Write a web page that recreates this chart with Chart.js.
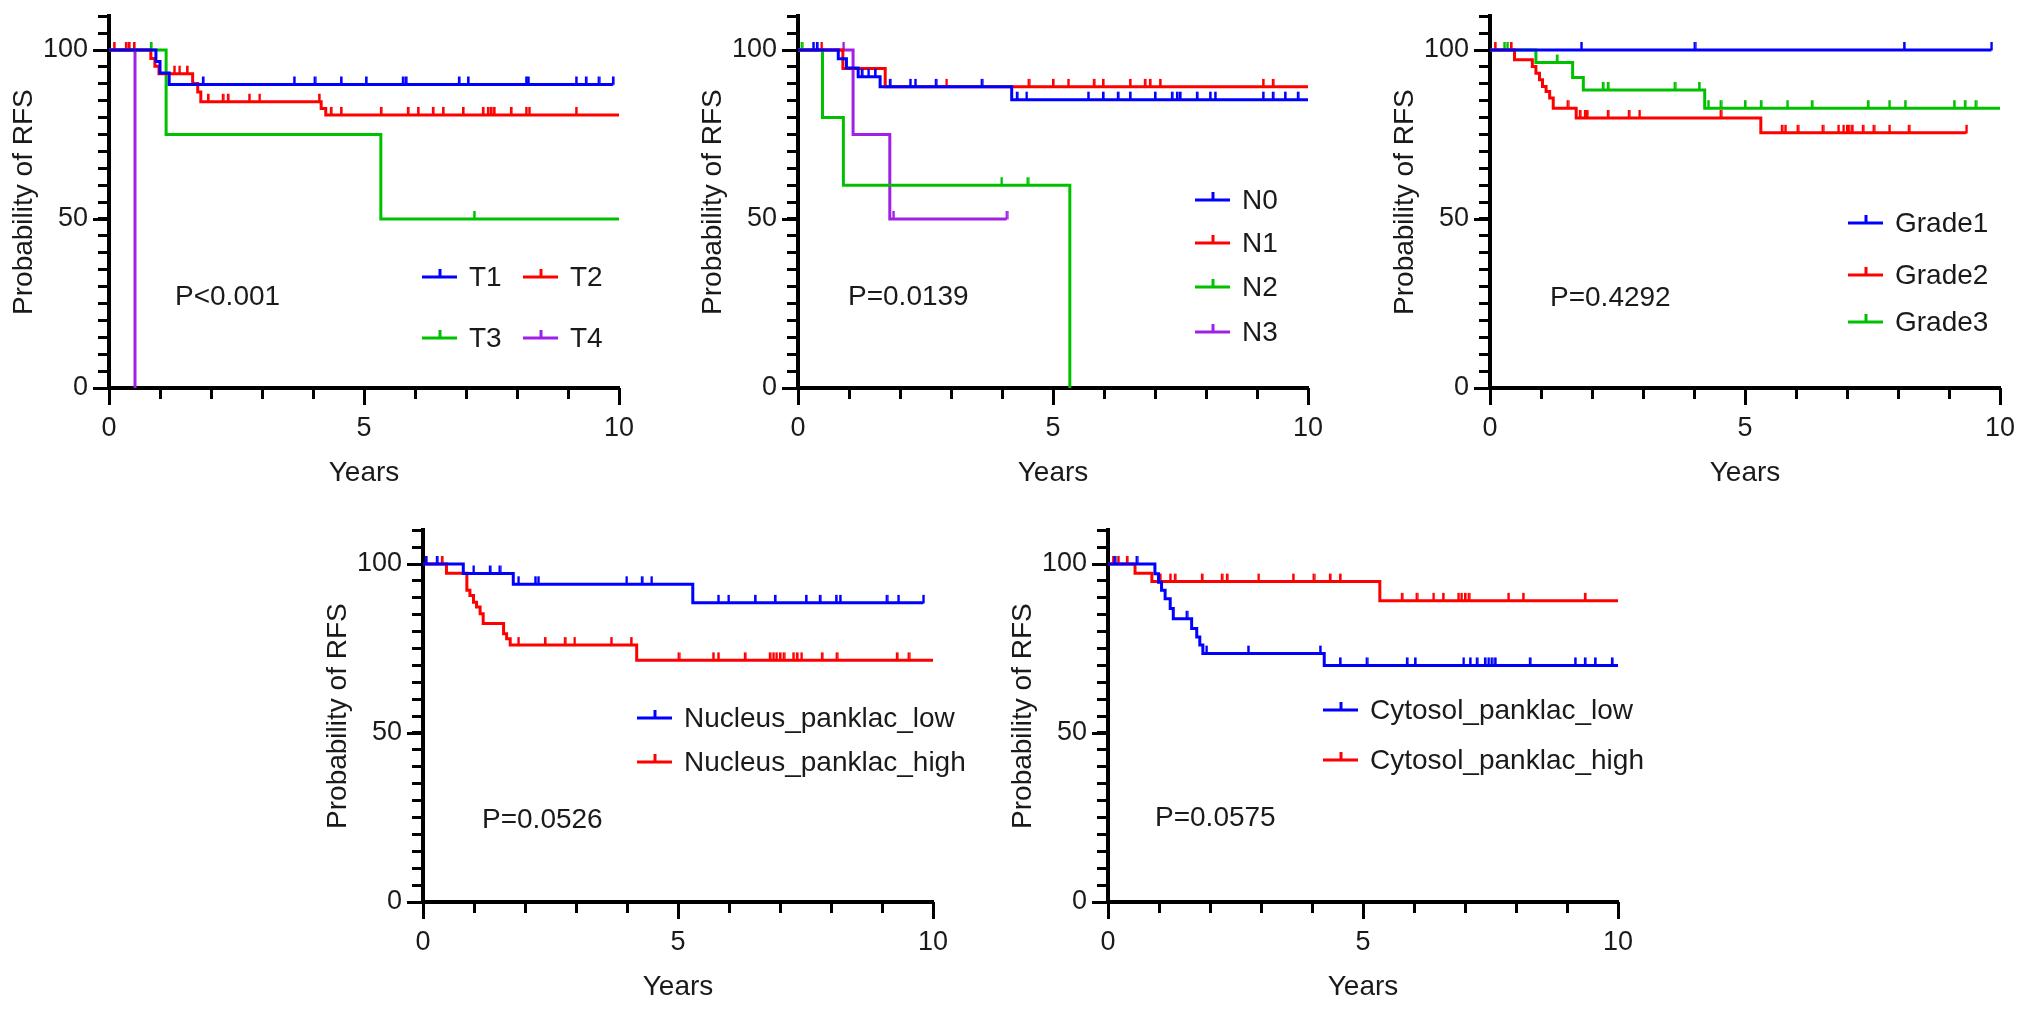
<!DOCTYPE html>
<html>
<head>
<meta charset="utf-8">
<script src="https://cdn.jsdelivr.net/npm/chart.js@4.4.0/dist/chart.umd.min.js"></script>
<style>
  body { margin: 0; background: #fff; width: 2032px; height: 1010px; overflow: hidden; position: relative; }
  canvas { position: absolute; }
</style>
</head>
<body>
<canvas id="pT"></canvas>
<canvas id="pN"></canvas>
<canvas id="pG"></canvas>
<canvas id="pNuc"></canvas>
<canvas id="pCyt"></canvas>
<script>
// ---- data (years / probability of RFS in %) ----
// T stage
const t1Time = [0, 0.92, 1.0, 1.18, 9.88];
const t1Surv = [100, 96.6, 93.2, 89.8, 89.8];
const t1Cens = [1.84, 3.63, 4.03, 4.55, 5.04, 5.76, 5.82, 6.86, 7.04, 8.18, 8.22, 9.16, 9.35, 9.6, 9.88];
const t2Time = [0, 0.82, 0.9, 0.98, 1.64, 1.74, 1.8, 4.16, 4.25, 10];
const t2Surv = [100, 97.5, 95.2, 93.0, 90.1, 87.6, 84.7, 82.7, 80.8, 80.8];
const t2Cens = [0.1, 0.33, 0.39, 0.49, 1.28, 1.38, 1.53, 1.94, 2.23, 2.33, 2.75, 2.95, 4.12, 4.35, 4.55, 5.33, 5.86, 6.06, 6.35, 6.55, 6.94, 7.33, 7.43, 7.49, 7.55, 7.88, 8.18, 8.24, 9.16];
const t3Time = [0, 1.12, 5.33, 10];
const t3Surv = [100, 75, 50, 50];
const t3Cens = [0.82, 7.16];
const t4Time = [0, 0.51];
const t4Surv = [100, 0];
const t4Cens = [];

// N stage
const n0Time = [0, 0.79, 0.95, 1.18, 1.61, 4.19, 10];
const n0Surv = [100, 97.4, 94.7, 92.1, 89.1, 85.3, 85.3];
const n0Cens = [0.3, 0.37, 1.25, 1.38, 1.51, 1.8, 2.2, 2.3, 2.7, 3.6, 4.29, 4.48, 5.69, 5.98, 6.27, 6.51, 7.0, 7.33, 7.43, 7.49, 7.82, 8.08, 8.18, 9.12, 9.31, 9.55, 9.8];
const n1Time = [0, 0.88, 1.71, 10];
const n1Surv = [100, 94.5, 89.1, 89.1];
const n1Cens = [0.46, 2.91, 4.52, 5.0, 5.3, 5.8, 5.98, 6.51, 6.8, 6.9, 7.1, 9.12, 9.31];
const n2Time = [0, 0.48, 0.89, 5.33];
const n2Surv = [100, 80, 60, 0];
const n2Cens = [0.07, 3.99, 4.5];
const n3Time = [0, 1.08, 1.8, 4.09];
const n3Surv = [100, 75, 50, 50];
const n3Cens = [0.89, 1.87, 4.09];

// Grade
const g1Time = [0, 9.83];
const g1Surv = [100, 100];
const g1Cens = [1.79, 4.01, 8.12, 9.83];
const g2Time = [0, 0.48, 0.83, 0.9, 0.97, 1.03, 1.1, 1.17, 1.24, 1.69, 5.31, 9.34];
const g2Surv = [100, 97.1, 95.1, 93.1, 91.2, 89.2, 87.7, 85.8, 82.8, 79.9, 75.5, 75.5];
const g2Cens = [0.1, 0.41, 1.52, 1.76, 1.86, 1.9, 2.31, 2.72, 2.93, 4.52, 5.72, 5.79, 6.03, 6.52, 6.83, 6.93, 7.0, 7.03, 7.1, 7.31, 7.52, 7.83, 8.21, 9.34];
const g3Time = [0, 0.9, 1.62, 1.83, 4.21, 10];
const g3Surv = [100, 96.3, 91.9, 88.2, 82.8, 82.8];
const g3Cens = [0.28, 0.34, 1.31, 2.21, 2.31, 3.62, 4.1, 4.28, 4.52, 5.0, 5.31, 5.83, 6.31, 7.41, 7.83, 8.14, 9.1, 9.31, 9.52];

// Nucleus panklac
const nucLowTime = [0, 0.79, 1.77, 5.29, 9.81];
const nucLowSurv = [100, 97.2, 94.0, 88.5, 88.5];
const nucLowCens = [0.06, 0.27, 0.99, 1.31, 1.5, 1.87, 2.2, 2.26, 3.99, 4.29, 4.48, 5.79, 5.99, 6.51, 6.9, 7.51, 7.78, 8.1, 8.18, 9.09, 9.32, 9.81];
const nucHighTime = [0, 0.46, 0.86, 0.92, 0.99, 1.05, 1.12, 1.18, 1.58, 1.64, 1.71, 4.19, 10];
const nucHighSurv = [100, 97.3, 92.2, 90.7, 88.7, 87.3, 85.3, 82.4, 79.4, 77.9, 76.0, 71.5, 71.5];
const nucHighCens = [0.37, 1.87, 2.39, 2.78, 2.97, 3.69, 4.08, 5.01, 5.69, 5.79, 6.31, 6.8, 6.87, 6.93, 7.0, 7.07, 7.26, 7.33, 7.42, 7.82, 8.11, 9.29, 9.52];

// Cytosol panklac
const cytLowTime = [0, 0.92, 0.99, 1.05, 1.12, 1.22, 1.28, 1.64, 1.74, 1.8, 1.86, 4.24, 10];
const cytLowSurv = [100, 97.1, 94.6, 92.2, 89.7, 86.8, 83.8, 80.9, 78.4, 76.0, 73.5, 70.0, 70.0];
const cytLowCens = [0.13, 0.56, 1.54, 1.93, 2.75, 4.16, 4.55, 5.07, 5.86, 6.02, 6.97, 7.1, 7.23, 7.39, 7.46, 7.52, 7.59, 8.27, 9.16, 9.35, 9.55, 9.88];
const cytHighTime = [0, 0.53, 0.86, 5.33, 10];
const cytHighSurv = [100, 97.3, 94.8, 89.1, 89.1];
const cytHighCens = [0.1, 0.2, 0.37, 1.02, 1.22, 1.31, 1.84, 2.23, 2.33, 2.95, 3.63, 4.03, 4.35, 4.55, 5.76, 6.05, 6.38, 6.57, 6.87, 6.93, 7.0, 7.07, 7.85, 8.14, 9.35];

const yTickLabels = [0, 50, 100];
const xTickLabels = [0, 5, 10];
const yTicks = [0, 5, 10, 15, 20, 25, 30, 35, 40, 45, 50, 55, 60, 65, 70, 75, 80, 85, 90, 95, 100, 105, 110];
const xTicks = [0, 1, 2, 3, 4, 5, 6, 7, 8, 9, 10];

const BLUE = '#0000ff', RED = '#ff0000', GREEN = '#00c000', PURPLE = '#a020e8';
const FONT = '"Liberation Sans", Arial, Helvetica, sans-serif';
const TEXT = '#1a1a1a';

// survival level at time t from a step curve
function survAt(times, surv, t) {
  let s = surv[0];
  for (let i = 0; i < times.length; i++) if (times[i] <= t) s = surv[i];
  return s;
}

// small upward tick used as the censor mark
const markCache = {};
function censorMark(color) {
  if (markCache[color]) return markCache[color];
  const c = document.createElement('canvas');
  c.width = 4; c.height = 18;
  const g = c.getContext('2d');
  g.fillStyle = color;
  g.fillRect(1, 1, 2.6, 8.5);
  markCache[color] = c;
  return c;
}

function curveSets(label, color, times, surv, cens) {
  return [
    {
      label: label,
      data: times.map((t, i) => ({ x: t, y: surv[i] })),
      showLine: true, stepped: true, borderColor: color, borderWidth: 3,
      pointRadius: 0, fill: false
    },
    {
      label: label + ' censored',
      data: cens.map(t => ({ x: t, y: survAt(times, surv, t) })),
      showLine: false, pointStyle: censorMark(color), pointRadius: 4
    }
  ];
}

// longer major ticks, in-plot legend and p-value text
const kmDecor = {
  id: 'kmDecor',
  afterDraw(chart, args, opts) {
    const ctx = chart.ctx;
    const area = chart.chartArea;
    const xs = chart.scales.x, ys = chart.scales.y;
    ctx.save();
    ctx.strokeStyle = '#000';
    ctx.lineWidth = 3;
    yTickLabels.forEach(v => {
      const py = Math.round(ys.getPixelForValue(v)) + 0.5;
      ctx.beginPath(); ctx.moveTo(area.left - 16, py); ctx.lineTo(area.left, py); ctx.stroke();
    });
    xTickLabels.forEach(v => {
      const px = Math.round(xs.getPixelForValue(v)) + 0.5;
      ctx.beginPath(); ctx.moveTo(px, area.bottom); ctx.lineTo(px, area.bottom + 17); ctx.stroke();
    });

    ctx.font = '28px ' + FONT;
    ctx.textBaseline = 'middle';
    ctx.textAlign = 'left';
    (opts.items || []).forEach(it => {
      ctx.strokeStyle = it.color;
      ctx.lineWidth = 3;
      ctx.beginPath(); ctx.moveTo(it.x, it.y); ctx.lineTo(it.x + 35, it.y); ctx.stroke();
      ctx.beginPath(); ctx.moveTo(it.x + 18, it.y); ctx.lineTo(it.x + 18, it.y - 8); ctx.stroke();
      ctx.fillStyle = TEXT;
      ctx.fillText(it.label, it.x + 47, it.y + 1);
    });
    if (opts.pText) {
      ctx.fillStyle = TEXT;
      ctx.fillText(opts.pText, opts.px, opts.py);
    }
    ctx.restore();
  }
};

const PAD_TOP = 24, Y_BOX = 108, X_BOX = 110, PLOT_W = 510, PLOT_H = 374, PAD_RIGHT = 60;

function makePanel(id, ox, oy, datasets, legendOpts) {
  const cv = document.getElementById(id);
  const w = Y_BOX + PLOT_W + PAD_RIGHT, h = PAD_TOP + PLOT_H + X_BOX;
  cv.width = w; cv.height = h;
  cv.style.left = (ox - Y_BOX) + 'px';
  cv.style.top = (oy - PLOT_H - PAD_TOP) + 'px';
  cv.style.width = w + 'px'; cv.style.height = h + 'px';
  new Chart(cv, {
    type: 'scatter',
    data: { datasets: datasets },
    plugins: [kmDecor],
    options: {
      responsive: false, animation: false, events: [],
      layout: { padding: { top: PAD_TOP, right: PAD_RIGHT, left: 0, bottom: 0 } },
      plugins: { legend: { display: false }, tooltip: { enabled: false }, kmDecor: legendOpts },
      scales: {
        x: {
          type: 'linear', min: 0, max: 10,
          afterBuildTicks: s => { s.ticks = xTicks.map(v => ({ value: v })); },
          afterFit: s => { s.height = X_BOX; },
          border: { display: true, color: '#000', width: 4 },
          grid: { drawOnChartArea: false, drawTicks: true, tickLength: 11, tickWidth: 3, tickColor: '#000' },
          ticks: {
            padding: 13, autoSkip: false, maxRotation: 0, color: TEXT, font: { size: 27, family: FONT },
            callback: v => (xTickLabels.includes(v) ? String(v) : '')
          },
          title: { display: true, text: 'Years', color: TEXT, font: { size: 28, family: FONT }, padding: { top: 0, bottom: 8 } }
        },
        y: {
          type: 'linear', min: 0, max: 110,
          afterBuildTicks: s => { s.ticks = yTicks.map(v => ({ value: v })); },
          afterFit: s => { s.width = Y_BOX; },
          border: { display: true, color: '#000', width: 4 },
          grid: { drawOnChartArea: false, drawTicks: true, tickLength: 11, tickWidth: 3, tickColor: '#000' },
          ticks: {
            padding: 10, autoSkip: false, color: TEXT, font: { size: 27, family: FONT },
            callback: v => (yTickLabels.includes(v) ? String(v) : '')
          },
          title: { display: true, text: 'Probability of RFS', color: TEXT, font: { size: 28, family: FONT }, padding: { top: 6, bottom: 0 } }
        }
      }
    }
  });
}

makePanel('pT', 109, 388, [
  ...curveSets('T1', BLUE, t1Time, t1Surv, t1Cens),
  ...curveSets('T2', RED, t2Time, t2Surv, t2Cens),
  ...curveSets('T3', GREEN, t3Time, t3Surv, t3Cens),
  ...curveSets('T4', PURPLE, t4Time, t4Surv, t4Cens)
], {
  items: [
    { label: 'T1', color: BLUE, x: 421, y: 287 },
    { label: 'T2', color: RED, x: 522, y: 287 },
    { label: 'T3', color: GREEN, x: 421, y: 348 },
    { label: 'T4', color: PURPLE, x: 522, y: 348 }
  ],
  pText: 'P<0.001', px: 174, py: 307
});

makePanel('pN', 798, 388, [
  ...curveSets('N0', BLUE, n0Time, n0Surv, n0Cens),
  ...curveSets('N1', RED, n1Time, n1Surv, n1Cens),
  ...curveSets('N2', GREEN, n2Time, n2Surv, n2Cens),
  ...curveSets('N3', PURPLE, n3Time, n3Surv, n3Cens)
], {
  items: [
    { label: 'N0', color: BLUE, x: 505, y: 210 },
    { label: 'N1', color: RED, x: 505, y: 253 },
    { label: 'N2', color: GREEN, x: 505, y: 297 },
    { label: 'N3', color: PURPLE, x: 505, y: 342 }
  ],
  pText: 'P=0.0139', px: 158, py: 307
});

makePanel('pG', 1490, 388, [
  ...curveSets('Grade1', BLUE, g1Time, g1Surv, g1Cens),
  ...curveSets('Grade2', RED, g2Time, g2Surv, g2Cens),
  ...curveSets('Grade3', GREEN, g3Time, g3Surv, g3Cens)
], {
  items: [
    { label: 'Grade1', color: BLUE, x: 466, y: 233 },
    { label: 'Grade2', color: RED, x: 466, y: 285 },
    { label: 'Grade3', color: GREEN, x: 466, y: 332 }
  ],
  pText: 'P=0.4292', px: 168, py: 308
});

makePanel('pNuc', 423, 902, [
  ...curveSets('Nucleus_panklac_low', BLUE, nucLowTime, nucLowSurv, nucLowCens),
  ...curveSets('Nucleus_panklac_high', RED, nucHighTime, nucHighSurv, nucHighCens)
], {
  items: [
    { label: 'Nucleus_panklac_low', color: BLUE, x: 322, y: 214 },
    { label: 'Nucleus_panklac_high', color: RED, x: 322, y: 258 }
  ],
  pText: 'P=0.0526', px: 167, py: 316
});

makePanel('pCyt', 1108, 902, [
  ...curveSets('Cytosol_panklac_low', BLUE, cytLowTime, cytLowSurv, cytLowCens),
  ...curveSets('Cytosol_panklac_high', RED, cytHighTime, cytHighSurv, cytHighCens)
], {
  items: [
    { label: 'Cytosol_panklac_low', color: BLUE, x: 323, y: 206 },
    { label: 'Cytosol_panklac_high', color: RED, x: 323, y: 256 }
  ],
  pText: 'P=0.0575', px: 155, py: 314
});
</script>
</body>
</html>
